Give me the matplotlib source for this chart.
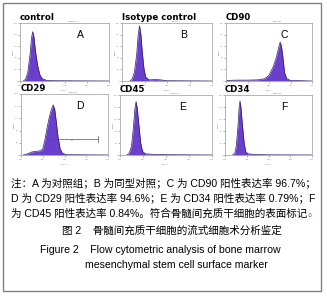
import numpy as np
import matplotlib.pyplot as plt
from matplotlib.patches import Rectangle

plt.rcParams['font.family'] = ['Liberation Sans', 'Noto Sans CJK SC', 'DejaVu Sans']

W, H = 327, 297

# 直方图数据: 横轴为荧光强度的 log10, 纵轴为相对细胞数
a_x = [0.15, 0.25, 0.35, 0.45, 0.52, 0.57, 0.62, 0.70, 0.80, 0.90, 1.00, 1.20, 1.50, 4.0]
a_y = [0, 0.03, 0.15, 0.45, 0.75, 0.85, 0.78, 0.50, 0.25, 0.10, 0.04, 0.01, 0.005, 0]

b_x = [0.35, 0.45, 0.55, 0.65, 0.72, 0.78, 0.84, 0.90, 0.98, 1.05, 1.20, 1.50, 1.70, 2.00, 4.0]
b_y = [0, 0.03, 0.15, 0.45, 0.80, 0.95, 0.80, 0.50, 0.20, 0.07, 0.02, 0.025, 0.02, 0.005, 0]

c_x = [0.0, 0.5, 1.0, 1.5, 1.8, 2.0, 2.2, 2.35, 2.45, 2.52, 2.58, 2.65, 2.72, 2.82, 3.0, 4.0]
c_y = [0.01, 0.015, 0.015, 0.02, 0.04, 0.10, 0.25, 0.42, 0.58, 0.67, 0.60, 0.40, 0.15, 0.04, 0.01, 0]

d_x = [0.1, 0.3, 0.5, 0.7, 0.9, 1.0, 1.1, 1.2, 1.3, 1.4, 1.48, 1.55, 1.62, 1.70, 1.80, 1.90, 2.10, 4.0]
d_y = [0, 0.02, 0.05, 0.06, 0.07, 0.10, 0.25, 0.45, 0.62, 0.75, 0.82, 0.75, 0.55, 0.30, 0.10, 0.03, 0.005, 0]

e_x = [0.3, 0.4, 0.5, 0.58, 0.65, 0.70, 0.75, 0.82, 0.90, 0.98, 1.10, 1.50, 2.00, 4.0]
e_y = [0, 0.03, 0.15, 0.45, 0.78, 0.89, 0.78, 0.50, 0.20, 0.06, 0.02, 0.01, 0.005, 0]

f_x = [0.35, 0.45, 0.52, 0.60, 0.65, 0.69, 0.73, 0.80, 0.88, 0.95, 1.05, 1.40, 2.00, 4.0]
f_y = [0, 0.03, 0.15, 0.50, 0.80, 0.90, 0.80, 0.50, 0.20, 0.06, 0.02, 0.008, 0.003, 0]

titles = ['control', 'Isotype control', 'CD90', 'CD29', 'CD45', 'CD34']
letters = ['A', 'B', 'C', 'D', 'E', 'F']
xs = [a_x, b_x, c_x, d_x, e_x, f_x]
ys = [a_y, b_y, c_y, d_y, e_y, f_y]
m1_range = [0.3 * 4, 0.88 * 4]   # CD29 的 M1 门
m1_level = 0.26

# 面板像素位置 (左, 上, 右, 下)
boxes = [(20, 23, 109, 81), (122, 23, 212, 81), (226, 23, 312, 81),
         (21, 94, 108, 155), (120, 95, 212, 155), (225, 95, 312, 155)]

fig = plt.figure(figsize=(W / 100, H / 100), dpi=100)
fig.patches.append(Rectangle((3 / W, 1 - 291 / H), 318 / W, 288 / H,
                             transform=fig.transFigure, fill=False,
                             edgecolor='#808080', linewidth=1.0))

for i, (l, t, r, b) in enumerate(boxes):
    ax = fig.add_axes([l / W, 1 - b / H, (r - l) / W, (b - t) / H])
    lx = 10 ** np.array(xs[i])
    ax.fill_between(lx, ys[i], color='#6a3fcc', linewidth=0)
    ax.plot(lx, ys[i], color='#2b1a6a', linewidth=0.5)
    ax.set_xscale('log')
    ax.set_xlim(1, 1e4)
    ax.set_ylim(0, 1)
    ax.set_xticks([1, 10, 100, 1000, 10000])
    ax.set_xticklabels(['10$^0$', '10$^1$', '10$^2$', '10$^3$', '10$^4$'])
    ax.minorticks_off()
    ax.set_yticks([0, 0.2, 0.4, 0.6, 0.8, 1.0])
    ax.set_yticklabels(['0', '40', '80', '120', '160', '200'])
    ax.tick_params(labelsize=1.6, length=1.2, width=0.4, pad=0.4, colors='#777777')
    for s in ax.spines.values():
        s.set_color('#aaaaaa')
        s.set_linewidth(0.6)
    ax.set_xlabel('FITC-A', fontsize=1.6, labelpad=0.3, color='#777777')
    ax.set_ylabel('Count', fontsize=1.6, labelpad=0.3, color='#777777')
    ax.text(0.0, 1.02, titles[i], transform=ax.transAxes, fontsize=6.2,
            fontweight='heavy', family='DejaVu Sans', ha='left', va='bottom')
    ax.text(0.6, 1.01, 'Data.00%d' % (i + 1), transform=ax.transAxes,
            fontsize=1.6, color='#777777', ha='center', va='bottom')
    ax.text(0.68, 0.8, letters[i], transform=ax.transAxes, fontsize=7.5,
            ha='center', va='center')
    if i == 3:
        lo, hi = 10 ** m1_range[0], 10 ** m1_range[1]
        ax.plot([lo, hi], [m1_level, m1_level], color='#555555', linewidth=0.5)
        ax.plot([hi, hi], [m1_level - 0.05, m1_level + 0.05], color='#555555', linewidth=0.5)
        ax.text(10 ** ((m1_range[0] + m1_range[1]) / 2), m1_level - 0.01, 'M1',
                fontsize=1.6, ha='center', va='top', color='#555555')

cn = ['Liberation Sans', 'Noto Sans CJK SC']
fs = 7.6
fig.text(11 / W, 1 - 183 / H, '注：A 为对照组；B 为同型对照；C 为 CD90 阳性表达率 96.7%；',
         fontsize=fs, family=cn, va='center', ha='left')
fig.text(11 / W, 1 - 198 / H, 'D 为 CD29 阳性表达率 94.6%；E 为 CD34 阳性表达率 0.79%；F',
         fontsize=fs, family=cn, va='center', ha='left')
t3 = fig.text(11 / W, 1 - 213 / H, '为 CD45 阳性表达率 0.84%。符合骨髓间充质干细胞的表面标记',
              fontsize=fs, family=cn, va='center', ha='left')
fig.canvas.draw()
bb = t3.get_window_extent()
fig.text(bb.x1 / W, 1 - 213 / H, '。', fontsize=fs, family=cn, va='center',
         ha='left', color='#a040c0')
fig.text(172 / W, 1 - 231 / H, '图 2    骨髓间充质干细胞的流式细胞术分析鉴定',
         fontsize=fs, family=cn, va='center', ha='center')
fig.text(40 / W, 1 - 250 / H, 'Figure 2    Flow cytometric analysis of bone marrow',
         fontsize=fs, family=cn, va='center', ha='left')
fig.text(85 / W, 1 - 265 / H, 'mesenchymal stem cell surface marker',
         fontsize=fs, family=cn, va='center', ha='left')

fig.savefig('out.png', dpi=100)
